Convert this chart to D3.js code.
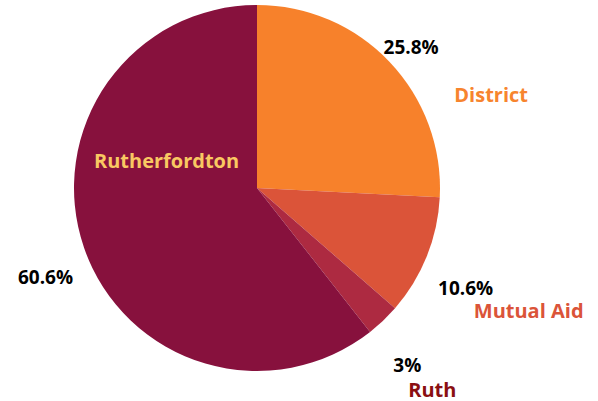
<!DOCTYPE html>
<html>
<head>
<meta charset="utf-8">
<script src="https://cdn.jsdelivr.net/npm/d3@7"></script>
<style>
  body { margin: 0; background: #fff; }
  text { font-family: "Open Sans", sans-serif; font-weight: bold; }
</style>
</head>
<body>
<svg id="chart" width="598" height="401"></svg>
<script>
// slices, clockwise from 12 o'clock
const categories = ['District', 'Mutual Aid', 'Ruth', 'Rutherfordton'];
const values = [25.8, 10.6, 3, 60.6];
const percentLabels = ['25.8%', '10.6%', '3%', '60.6%'];

const sliceColors = ['#f7812b', '#db5439', '#ad2a41', '#87113d'];
const nameColors = ['#f7842e', '#db5439', '#8a0f12', '#f9c862'];

// label placement, tuned by eye (px)
const pctNudge = [[-5, 11], [5, 18], [-1, 18], [-4, 18]];
const nameOffsets = [[80, 47], [63, 23], [25, 25], null];
const insideNudge = [-4, -57];

const cx = 257;
const cy = 188;
const radius = 183;

const svg = d3.select('#chart');
const g = svg.append('g').attr('transform', `translate(${cx},${cy})`);

const pie = d3.pie().sort(null).value((d, i) => values[i]);
const arcs = pie(categories);

const arc = d3.arc().innerRadius(0).outerRadius(radius);
const labelArc = d3.arc().innerRadius(radius * 1.2).outerRadius(radius * 1.2);
const innerArc = d3.arc().innerRadius(radius * 0.5).outerRadius(radius * 0.5);

g.selectAll('path.slice')
  .data(arcs)
  .enter().append('path')
  .attr('class', 'slice')
  .attr('d', arc)
  .attr('fill', (d, i) => sliceColors[i]);

const pctPos = arcs.map((d, i) => {
  const c = labelArc.centroid(d);
  return [c[0] + pctNudge[i][0], c[1] + pctNudge[i][1]];
});

const namePos = arcs.map((d, i) => {
  if (nameOffsets[i]) {
    return [pctPos[i][0] + nameOffsets[i][0], pctPos[i][1] + nameOffsets[i][1]];
  }
  const c = innerArc.centroid(d);
  return [c[0] + insideNudge[0], c[1] + insideNudge[1]];
});

g.selectAll('text.pct')
  .data(arcs)
  .enter().append('text')
  .attr('class', 'pct')
  .attr('x', (d, i) => pctPos[i][0])
  .attr('y', (d, i) => pctPos[i][1])
  .attr('dy', '0.35em')
  .attr('text-anchor', 'middle')
  .style('font-size', '19px')
  .style('fill', '#000')
  .text((d, i) => percentLabels[i]);

g.selectAll('text.name')
  .data(arcs)
  .enter().append('text')
  .attr('class', 'name')
  .attr('x', (d, i) => namePos[i][0])
  .attr('y', (d, i) => namePos[i][1])
  .attr('dy', '0.35em')
  .attr('text-anchor', 'middle')
  .style('font-size', '20px')
  .style('fill', (d, i) => nameColors[i])
  .text((d, i) => categories[i]);
</script>
</body>
</html>
